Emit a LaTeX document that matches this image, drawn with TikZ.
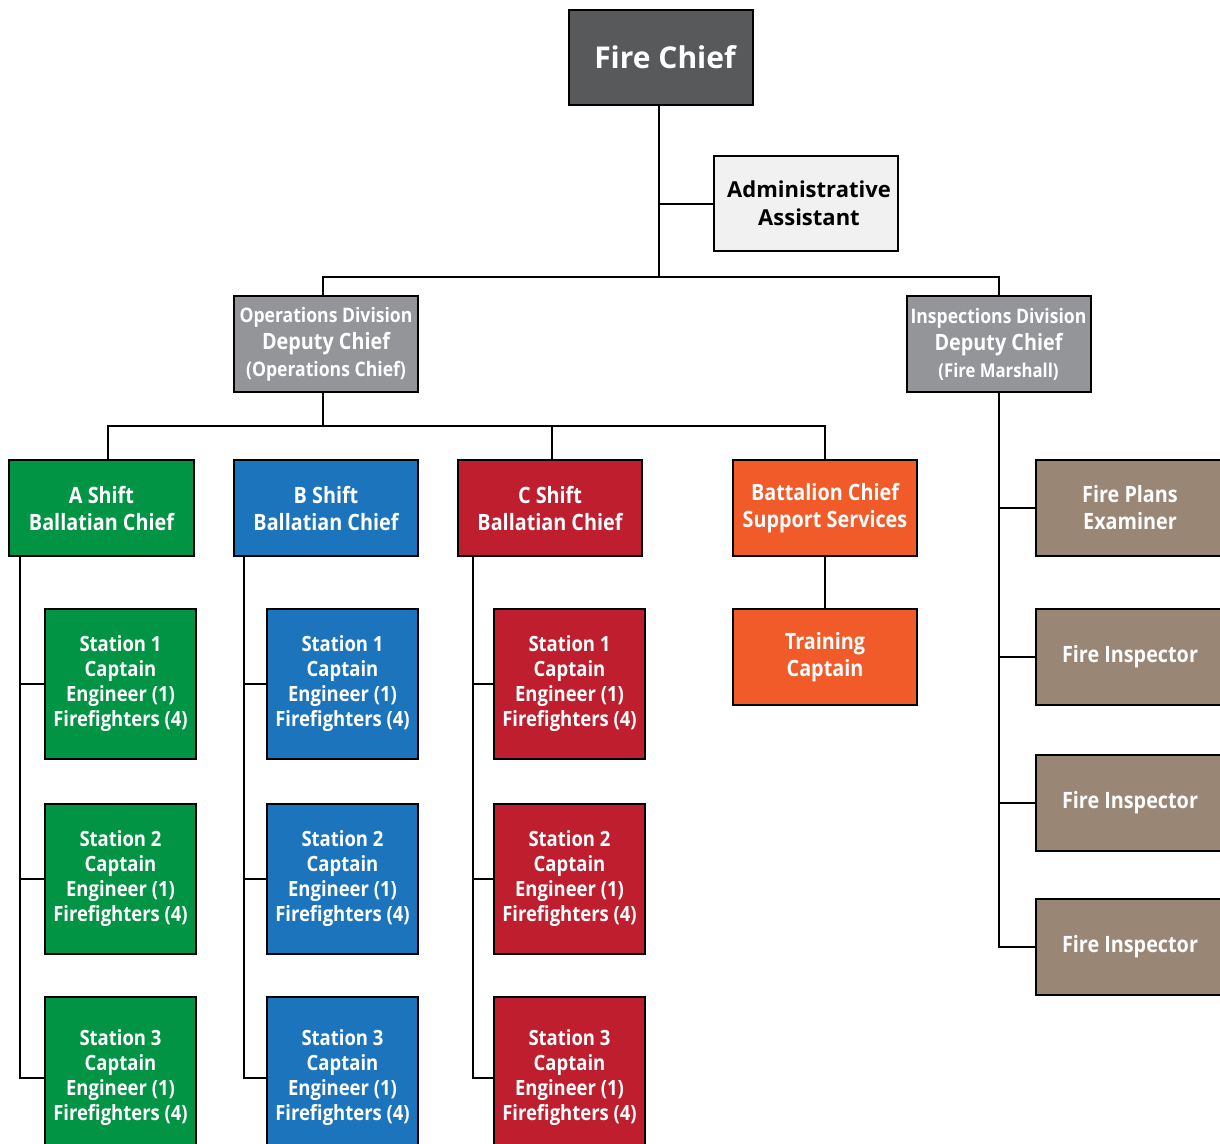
\documentclass[tikz,border=0pt]{standalone}
\usepackage{fontspec}
\newfontfamily\condfont{Open Sans}[FakeStretch=0.88]
\newfontfamily\widefont{Open Sans}
\definecolor{chiefgray}{HTML}{58595B}
\definecolor{adminfill}{HTML}{F1F1F2}
\definecolor{divgray}{HTML}{939598}
\definecolor{agreen}{HTML}{009444}
\definecolor{bblue}{HTML}{1C75BC}
\definecolor{cred}{HTML}{BE1E2D}
\definecolor{borange}{HTML}{F15A29}
\definecolor{taupe}{HTML}{998675}
\tikzset{
  x=1bp, y=-1bp,
  box/.style={draw=black, line width=2bp, inner sep=0pt, align=center, text=white,
    font=\condfont\bfseries\fontsize{22.5bp}{27bp}\selectfont},
  wbox/.style={box, minimum width=184bp, minimum height=96bp},
  stbox/.style={box, minimum width=151bp, minimum height=150bp,
    font=\condfont\bfseries\fontsize{21bp}{25bp}\selectfont},
  inbox/.style={box, minimum width=188bp, minimum height=96bp, fill=taupe},
  conn/.style={draw=black, line width=2bp},
}
\begin{document}
\begin{tikzpicture}
\useasboundingbox (0,0) rectangle (1220,1144);
% top
\node[box, minimum width=184bp, minimum height=95bp, fill=chiefgray,
  font=\widefont\bfseries\fontsize{30bp}{36bp}\selectfont] (fc) at (661,57.5) {\hspace*{8bp}Fire Chief};
\node[box, minimum width=184bp, minimum height=95bp, fill=adminfill, text=black,
  font=\widefont\bfseries\fontsize{22bp}{28bp}\selectfont] (aa) at (806,203.5) {\hspace*{6bp}Administrative\\\hspace*{6bp}Assistant};
% divisions
\node[wbox, fill=divgray] (ops) at (326,344)
  {{\fontsize{20bp}{26bp}\selectfont Operations Division}\\Deputy Chief\\{\fontsize{20bp}{26bp}\selectfont (Operations Chief)}};
\node[wbox, fill=divgray] (insp) at (998.5,344)
  {{\fontsize{20bp}{26bp}\selectfont Inspections Division}\\Deputy Chief\\{\fontsize{19bp}{26bp}\selectfont (Fire Marshall)}};
% shifts
\node[wbox, fill=agreen] (ash) at (101.5,508) {A Shift\\Ballatian Chief};
\node[wbox, fill=bblue] (bsh) at (326,508) {B Shift\\Ballatian Chief};
\node[wbox, fill=cred] (csh) at (550,508) {C Shift\\Ballatian Chief};
\node[wbox, fill=borange] (bat) at (825,508) {Battalion Chief\\Support Services};
\node[wbox, fill=borange] (tc) at (825,657) {Training\\Captain};
% stations
\node[stbox, fill=agreen] (a1) at (120.5,684) {Station 1\\Captain\\Engineer (1)\\Firefighters (4)};
\node[stbox, fill=agreen] (a2) at (120.5,879) {Station 2\\Captain\\Engineer (1)\\Firefighters (4)};
\node[stbox, fill=agreen, minimum height=162bp] (a3) at (120.5,1078) {Station 3\\Captain\\Engineer (1)\\Firefighters (4)};
\node[stbox, fill=bblue] (b1) at (342.5,684) {Station 1\\Captain\\Engineer (1)\\Firefighters (4)};
\node[stbox, fill=bblue] (b2) at (342.5,879) {Station 2\\Captain\\Engineer (1)\\Firefighters (4)};
\node[stbox, fill=bblue, minimum height=162bp] (b3) at (342.5,1078) {Station 3\\Captain\\Engineer (1)\\Firefighters (4)};
\node[stbox, fill=cred] (c1) at (569.5,684) {Station 1\\Captain\\Engineer (1)\\Firefighters (4)};
\node[stbox, fill=cred] (c2) at (569.5,879) {Station 2\\Captain\\Engineer (1)\\Firefighters (4)};
\node[stbox, fill=cred, minimum height=162bp] (c3) at (569.5,1078) {Station 3\\Captain\\Engineer (1)\\Firefighters (4)};
% inspections
\node[inbox] (i1) at (1130,508) {Fire Plans\\Examiner};
\node[inbox] (i2) at (1130,657) {Fire Inspector};
\node[inbox] (i3) at (1130,803) {Fire Inspector};
\node[inbox] (i4) at (1130,947) {Fire Inspector};
% junction coordinates
\coordinate (j1) at (659,277);
\coordinate (j2) at (323,426);
\coordinate (sa) at (20,556);
\coordinate (sb) at (244,556);
\coordinate (sc) at (473,556);
\coordinate (si) at (999,392);
% connectors
\draw[conn] (fc.south -| j1) -- (j1);
\draw[conn] (aa.west -| j1) -- (aa.west);
\draw[conn] (ops.north -| j2) |- (j1) -| (insp.north -| si);
\draw[conn] (ops.south -| j2) -- (j2);
\draw[conn] (ash.north -| 108,0) |- (j2) -| (bat.north);
\draw[conn] (j2) -| (csh.north -| 552,0);
\draw[conn] (bat.south) -- (tc.north);
\draw[conn] (sa) |- (a3.west);
\draw[conn] (a1.west) -- (a1.west -| sa);
\draw[conn] (a2.west) -- (a2.west -| sa);
\draw[conn] (sb) |- (b3.west);
\draw[conn] (b1.west) -- (b1.west -| sb);
\draw[conn] (b2.west) -- (b2.west -| sb);
\draw[conn] (sc) |- (c3.west);
\draw[conn] (c1.west) -- (c1.west -| sc);
\draw[conn] (c2.west) -- (c2.west -| sc);
\draw[conn] (si) |- (i4.west);
\draw[conn] (i1.west) -- (i1.west -| si);
\draw[conn] (i2.west) -- (i2.west -| si);
\draw[conn] (i3.west) -- (i3.west -| si);
\end{tikzpicture}
\end{document}
